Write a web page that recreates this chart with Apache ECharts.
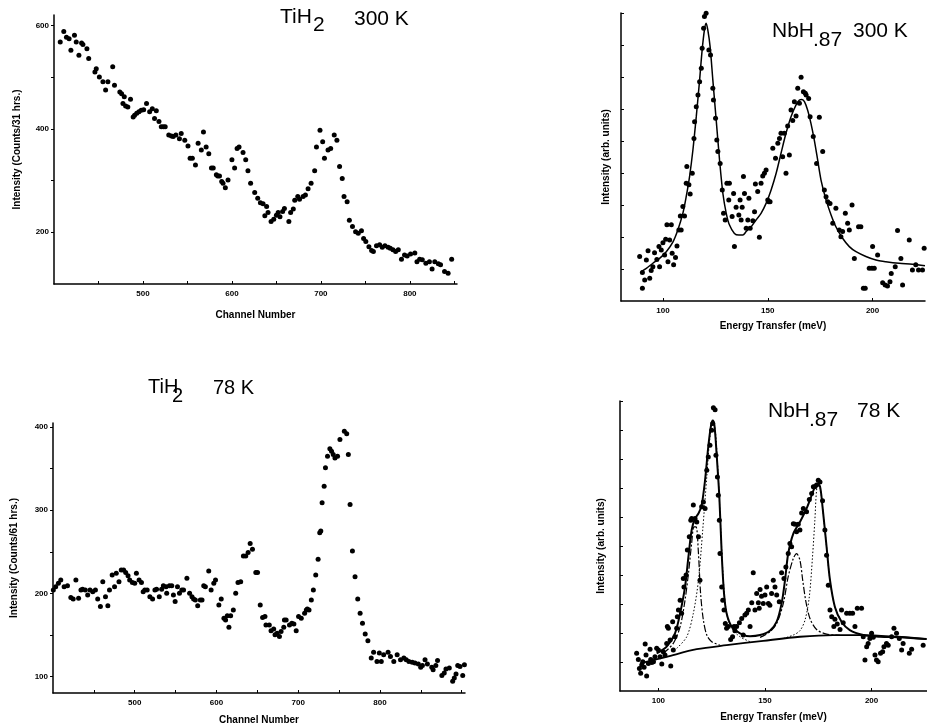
<!DOCTYPE html>
<html>
<head>
<meta charset="utf-8">
<title>TiH2 and NbH.87 spectra</title>
<script src="https://cdn.jsdelivr.net/npm/echarts@6/dist/echarts.min.js"></script>
<style>
  html, body { margin: 0; padding: 0; background: #fff; }
  #chart { width: 927px; height: 728px; }
</style>
</head>
<body>
<div id="chart"></div>
<script>
// TiH2 300 K : [channel, counts]
const tih300 = [[407,568],[411,588],[414,577],[417,574],[419,552],[423,581],[425,568],[428,542],[431,566],[432.5,563],[437,555],[439,536],[446,510],[447.5,516],[451,500],[455,491],[458,475],[460.6,491],[466,520],[468,484],[474,471],[476,468],[477.5,449],[479,462],[480.5,444],[483,442],[486,457],[489,423],[490.6,426],[493,430],[495.5,433],[498,436],[500.8,437],[504,449],[507.5,433],[510.5,439],[513,420],[515,435],[518,414],[520.6,404],[523,404],[525,404],[529,388],[532,386],[534,385],[537,388],[541,381],[543,391],[547,378],[550.6,367],[553,343],[555.5,343],[559,330],[562,372],[565.6,359],[568,394],[571,365],[574,352],[577,324],[579,324],[582.5,311],[584,309],[586,309],[588.5,298],[590,295],[592.6,286],[595.6,301],[600,340],[603,324],[605.8,362],[608,365],[612.5,354],[615.5,340],[618,319],[621,295],[625.6,277],[629,266],[632,257],[635,255],[637,232],[639,250],[640.6,238],[644,221],[647,225],[650,233],[652,238],[654,230],[657,240],[659,246],[664,221],[666,238],[669,245],[670.6,262],[674,269],[676,264],[680,269],[682.6,272],[685.6,284],[689,295],[693,319],[695,365],[699,397],[702,375],[704,343],[708,359],[711,362],[715,388],[718,378],[721,327],[724,304],[726,269],[729.5,259],[732,223],[735.5,211],[739,201],[742,198],[745.6,203],[748,188],[750.5,182],[754,172],[757,165],[759,163],[762.5,174],[766,176],[769,171],[772,174],[775.6,171],[778,169],[781,166],[784,163],[787,166],[790.6,148],[794,156],[797,154],[800.8,158],[805.6,160],[808,143],[811,148],[814,147],[818,140],[822,143],[825,129],[828,143],[832,139],[834.5,137],[839,124],[843,121],[847,148]];

// TiH2 78 K : [channel, counts]
const tih78 = [[400.4,204],[403.3,208],[406.6,212],[409.5,216],[413.6,208],[417.7,209],[421.8,195],[424.7,193],[428,216],[431.3,194],[434.2,204],[436.2,205],[439.5,204],[442.4,198],[445.3,204],[448.6,202],[451.9,204],[454.7,193],[458,184],[460.9,214],[464.2,196],[467.1,185],[469.1,204],[472.4,222],[475.3,208],[477.4,224],[480.7,214],[483.5,228],[486.4,228],[488.9,225],[491.8,221],[493.8,216],[497.1,213],[500,212],[502,224],[505.3,216],[508.2,213],[510.3,202],[512.3,204],[515.2,204],[518.5,196],[521.8,193],[524.7,204],[526.7,205],[530,196],[532.9,205],[535,209],[538.3,208],[539.1,200],[542.4,209],[545.3,209],[547.3,198],[549.4,190],[552.3,208],[554.7,200],[557.6,204],[559.7,204],[563.8,218],[567.1,200],[570,196],[572,193],[574.1,192],[577,185],[580.2,192],[582.3,192],[584.4,209],[586.4,208],[590.5,227],[593.4,204],[596.7,212],[598.8,216],[602.9,186],[605.8,193],[609.1,170],[611.1,168],[613.2,173],[615.2,159],[617.3,173],[620.6,180],[623.5,200],[626.3,213],[629.6,214],[632.9,245],[635.8,245],[638.7,249],[641.2,260],[644,253],[648.1,225],[650.2,225],[653.5,186],[656.4,171],[659.3,172],[660.5,162],[664.6,162],[666.7,155],[670,157],[671.6,150],[674.1,152],[677,148],[679,154],[682.3,159],[683.1,168],[685.2,168],[689.3,162],[692.2,164],[694.7,163],[697.5,155],[700.4,172],[703.7,170],[707.8,176],[709.9,180],[711.1,181],[713.2,180],[716,192],[718.5,204],[721.4,222],[724.3,241],[726.3,273],[727.6,275],[729.2,309],[731.7,329],[733.3,351],[735.8,365],[738.7,374],[740.7,371],[742.8,367],[744.9,363],[748.1,365],[751,385],[753.1,416],[756.4,395],[759.3,392],[761.3,367],[763.4,307],[766.3,251],[769.5,220],[772.8,193],[775.7,176],[778.6,164],[781.9,151],[785.2,143],[789.3,122],[792.2,129],[796.3,118],[799.2,128],[801.6,118],[804.5,126],[809.9,129],[812.8,124],[816.9,118],[821,126],[825.1,120],[829.2,122],[832.1,120],[835.4,118],[839.5,117],[842.8,116],[846.9,115],[849.8,111],[851.9,113],[855.1,120],[858,115],[863.4,111],[865,108],[868.3,113],[870.4,119],[875.7,101],[878.6,104],[880.7,109],[884.8,110],[888.9,94],[890.9,98],[893,103],[895.1,113],[897.9,112],[901.2,101],[903.3,114]];

// NbH.87 300 K : [meV, arb. units]
const nbh300 = [[88.9,1.39],[90.2,0.89],[90.2,0.40],[91.3,0.66],[92.1,1.28],[92.9,1.57],[93.7,0.71],[94.4,0.95],[95.2,1.07],[96.0,1.51],[97.1,1.30],[98.1,1.70],[98.4,1.07],[99.2,1.59],[100,1.82],[100.8,1.44],[101.3,1.93],[101.9,2.38],[102.4,1.23],[103.2,1.91],[104.0,2.38],[104.4,1.49],[105.1,1.13],[106.0,1.36],[106.7,1.72],[107.6,2.22],[108.3,2.66],[108.7,2.22],[109.5,2.95],[110.3,2.66],[111.1,3.68],[111.4,4.20],[112.4,3.63],[113.0,3.34],[114.0,3.99],[114.8,5.08],[115.1,5.60],[115.9,6.07],[116.7,6.44],[117.5,6.85],[118.3,7.27],[118.7,7.90],[119.4,8.52],[119.8,8.89],[120.6,8.99],[121.9,7.84],[122.7,7.69],[123.8,6.65],[124.1,6.28],[125.1,5.71],[125.7,5.03],[126.2,4.67],[127.3,4.30],[128.3,3.47],[128.9,2.74],[129.7,2.53],[130.5,3.68],[131.4,3.16],[131.7,3.68],[133.0,2.64],[133.7,3.36],[134.1,1.70],[134.9,2.93],[136.2,2.69],[136.8,3.16],[137.3,2.53],[137.8,2.93],[138.4,3.89],[138.9,3.36],[139.7,2.27],[140.5,2.53],[141.0,3.21],[141.6,2.27],[142.9,2.51],[143.7,2.79],[144.1,3.66],[145.2,3.42],[146.0,1.99],[146.8,3.68],[147.6,3.91],[148.4,3.99],[149.2,4.09],[150.0,3.16],[150.5,3.10],[151.1,3.10],[152.4,4.77],[153.7,4.46],[154.8,4.93],[155.6,5.08],[156.3,5.24],[157.1,4.51],[157.9,5.24],[158.7,3.99],[159.5,5.47],[160.3,4.56],[161.1,5.97],[161.9,5.64],[162.7,6.23],[163.5,5.78],[164.3,6.65],[165.1,6.18],[165.9,6.99],[167.0,6.54],[167.9,6.49],[168.3,6.44],[169.5,6.33],[170.2,5.76],[171.7,5.14],[173.3,4.30],[174.6,5.74],[176.2,4.67],[177.0,3.47],[177.8,3.26],[178.6,3.10],[179.7,3.05],[181.0,2.43],[182.5,2.90],[184.1,2.22],[184.9,2.01],[185.7,2.17],[187.0,2.74],[188.1,2.43],[188.9,2.22],[190.2,3.00],[191.3,1.33],[193.3,2.32],[194.4,2.32],[195.6,0.40],[196.5,0.40],[198.4,1.02],[199.7,1.02],[200.0,1.70],[200.8,1.02],[202.4,1.44],[204.8,0.57],[206.0,0.50],[207.1,0.47],[208.3,0.60],[208.9,0.86],[210.8,1.07],[211.9,2.20],[213.5,1.33],[214.3,0.50],[217.5,1.91],[219.0,0.97],[220.6,1.13],[221.9,0.97],[223.8,0.97],[224.6,1.65]];
const nbh300Fit = [[89.7,0.92],[92.1,1.02],[95.2,1.18],[98.4,1.33],[101.6,1.54],[104.8,1.85],[107.1,2.22],[109.5,2.74],[111.1,3.26],[112.7,3.89],[114.3,4.72],[115.9,5.76],[117.5,6.91],[118.7,7.84],[119.8,8.47],[120.6,8.68],[121.4,8.47],[122.5,7.95],[123.8,6.91],[125.4,5.66],[127.0,4.41],[128.6,3.36],[130.2,2.74],[131.7,2.38],[134.1,2.11],[136.2,2.06],[138.1,2.06],[139.7,2.17],[142.1,2.32],[144.4,2.53],[146.8,2.74],[149.2,3.05],[151.6,3.47],[154.0,3.99],[156.3,4.61],[158.7,5.24],[161.1,5.76],[163.5,6.13],[165.1,6.28],[166.3,6.30],[167.5,6.23],[169.0,5.97],[170.6,5.55],[172.2,5.03],[173.8,4.41],[175.4,3.78],[177.8,3.16],[180.2,2.69],[182.5,2.32],[185.7,1.96],[188.9,1.70],[192.1,1.54],[196.8,1.39],[201.6,1.28],[206.3,1.23],[212.7,1.18],[219.0,1.15],[225.0,1.10]];

// NbH.87 78 K : [meV, arb. units]
const nbh78 = [[89.8,1.30],[90.6,1.09],[91.1,0.78],[91.7,0.61],[92.2,0.90],[92.7,1.01],[93.3,0.82],[93.8,1.62],[94.2,1.24],[94.5,0.52],[95.3,0.95],[96.1,1.44],[96.4,1.09],[96.9,0.98],[97.7,1.01],[98.4,1.18],[99.2,1.47],[100,1.41],[100.8,1.18],[101.6,0.93],[102.3,1.35],[103.1,1.24],[103.9,1.64],[104.2,2.22],[104.7,2.16],[105.5,1.76],[105.8,0.86],[106.7,2.39],[107.0,1.41],[107.8,1.87],[108.6,2.16],[108.9,2.56],[109.4,2.79],[110.2,3.13],[110.9,2.68],[111.7,3.88],[112.0,3.59],[113.0,4.00],[113.6,4.86],[114.5,5.32],[115.2,5.89],[115.6,5.95],[116.4,6.41],[117.2,5.95],[118.0,5.83],[118.8,5.32],[119.5,3.82],[120.3,6.35],[121.1,6.52],[121.9,6.29],[122.7,7.61],[123.4,8.07],[124.2,8.47],[125.0,8.99],[125.5,9.22],[125.8,9.77],[126.6,9.70],[127.0,8.13],[127.7,7.38],[128.1,6.75],[128.6,5.89],[128.9,4.74],[129.7,3.59],[130.2,3.13],[130.8,2.79],[131.4,2.33],[132.0,2.16],[132.8,2.22],[133.9,1.78],[134.8,1.87],[135.5,2.22],[135.9,2.08],[136.7,2.22],[138.0,2.35],[139.1,2.50],[139.8,1.93],[140.6,2.62],[141.4,2.68],[142.2,2.79],[143.0,2.22],[143.8,3.04],[144.5,4.08],[145.3,2.79],[146.1,3.36],[146.9,3.04],[147.3,2.85],[147.7,3.50],[148.4,3.27],[149.2,3.02],[150.0,3.31],[150.8,3.59],[151.6,3.02],[152.3,2.96],[153.1,3.36],[153.9,3.82],[154.7,3.59],[155.5,3.31],[156.7,3.08],[157.8,4.08],[158.9,3.88],[159.8,4.28],[160.9,4.74],[161.7,5.09],[162.5,4.97],[163.3,5.77],[164.1,5.75],[164.8,5.49],[165.6,5.75],[166.4,5.55],[167.2,6.14],[168.0,6.29],[169.5,6.18],[170.8,6.60],[171.9,6.81],[172.7,7.04],[173.4,7.04],[174.2,7.10],[175.0,7.27],[175.8,7.21],[177.0,6.56],[178.1,5.55],[178.9,4.68],[179.7,3.65],[180.5,2.79],[181.3,2.56],[182.3,2.22],[182.8,2.47],[183.9,2.31],[185.2,2.12],[185.9,2.79],[186.7,2.35],[188.3,2.68],[189.8,2.68],[191.1,2.68],[192.2,2.22],[193.3,2.85],[195.3,2.85],[196.1,1.87],[196.9,1.07],[197.7,1.53],[198.4,1.64],[199.2,1.81],[200.0,1.99],[200.8,1.85],[201.6,1.24],[202.3,1.07],[203.1,1.01],[204.2,1.30],[205.2,1.35],[205.8,1.53],[207.0,1.64],[207.8,1.58],[209.4,1.87],[210.5,2.16],[211.7,1.99],[213.0,1.81],[214.1,1.41],[214.8,1.64],[217.7,1.30],[218.8,1.44],[224.2,1.58]];
const nbh78Fit = [[99.2,1.30],[103.9,1.53],[107.8,1.99],[110.2,2.68],[112.5,3.59],[114.1,4.63],[115.6,5.55],[117.2,5.95],[118.8,6.12],[120.3,6.41],[121.9,7.27],[123.4,8.42],[124.7,9.16],[125.5,9.33],[126.3,9.16],[127.3,8.19],[128.6,6.69],[129.7,4.74],[130.8,3.36],[132.0,2.68],[134.4,2.22],[138.3,1.99],[143.0,1.89],[147.7,1.93],[152.3,2.08],[155.5,2.39],[157.8,3.02],[159.4,3.82],[160.9,4.74],[163.3,5.43],[166.4,5.83],[169.5,6.29],[171.9,6.75],[173.4,7.04],[174.5,7.15],[175.8,7.06],[177.0,6.35],[178.9,4.97],[180.5,3.82],[182.8,2.90],[185.9,2.39],[189.8,2.10],[196.1,1.93],[203.9,1.87],[213.3,1.85],[225.8,1.79]];
const nbh78Base = [[91.4,0.95],[103.9,1.18],[118.0,1.44],[132.0,1.58],[149.2,1.73],[166.4,1.87],[182.0,1.93],[196.1,1.93],[211.7,1.87],[225.8,1.79]];
const nbh78PeakA = [[102.3,1.30],[107.0,1.64],[110.2,2.22],[112.5,3.13],[114.1,4.05],[115.6,5.09],[116.7,5.66],[117.7,5.66],[118.8,4.74],[119.8,3.36],[121.1,2.45],[122.7,1.93],[125.0,1.70],[128.9,1.58]];
const nbh78PeakB = [[108.6,1.47],[113.3,1.87],[116.4,2.68],[118.8,3.82],[120.8,5.55],[122.7,7.38],[124.2,8.76],[125.5,9.28],[126.7,8.99],[128.0,7.50],[129.2,5.66],[130.5,3.82],[132.0,2.68],[134.4,2.16],[138.3,1.87],[143.0,1.70]];
const nbh78PeakC = [[147.7,1.85],[152.3,2.04],[155.5,2.33],[158.6,3.02],[160.9,3.94],[163.3,4.57],[164.8,4.74],[166.4,4.51],[167.7,3.82],[169.2,3.08],[171.1,2.50],[174.2,2.12],[178.9,1.96],[185.2,1.92]];
const nbh78PeakD = [[158.6,1.81],[163.3,1.93],[166.4,2.08],[168.8,2.45],[170.8,3.25],[172.3,4.63],[173.4,5.89],[174.2,6.92],[175.0,7.13],[176.1,6.92],[177.3,6.12],[178.9,4.97],[180.5,3.82],[182.8,2.90],[185.9,2.39]];

// tick positions and labels
const chTicks = [450, 500, 550, 600, 650, 700, 750, 800, 850];
const chTicks78 = [450, 500, 550, 600, 650, 700, 750, 800, 850, 900];
const chLabels = [500, 600, 700, 800];
const cnt300Ticks = [200, 300, 400, 500, 600];
const cnt300Labels = [200, 400, 600];
const cnt78Ticks = [100, 150, 200, 250, 300, 350, 400];
const cnt78Labels = [100, 200, 300, 400];
const meVLabels = [100, 150, 200];
const arb300Ticks = [1, 2, 3, 4, 5, 6, 7, 8, 9];
const arb78Ticks = [1, 2, 3, 4, 5, 6, 7, 8, 9, 10];

const chart = echarts.init(document.getElementById('chart'));
const ink = '#000';
const tickFont = { fontFamily: 'Liberation Sans', fontSize: 8, fontWeight: 'bold', color: ink };
const nameFont = { fontFamily: 'Liberation Sans', fontSize: 10, fontWeight: 'bold', color: ink };

function xAxis(gi, min, max, ticks, labels, name, gap) {
  return {
    type: 'value', gridIndex: gi, min: min, max: max, name: name,
    nameLocation: 'middle', nameGap: gap, nameTextStyle: nameFont,
    axisLine: { show: true, lineStyle: { color: ink, width: 1.5 } },
    axisTick: { show: true, inside: true, length: 3, customValues: ticks, lineStyle: { color: ink } },
    axisLabel: Object.assign({ customValues: labels, margin: 6 }, tickFont),
    splitLine: { show: false }
  };
}
function yAxis(gi, min, max, ticks, labels, name, gap, inside) {
  return {
    type: 'value', gridIndex: gi, min: min, max: max, name: name,
    nameLocation: 'middle', nameGap: gap, nameRotate: 90, nameTextStyle: nameFont,
    axisLine: { show: true, lineStyle: { color: ink, width: 1.5 } },
    axisTick: { show: true, inside: inside, length: 3, customValues: ticks, lineStyle: { color: ink } },
    axisLabel: Object.assign({ show: labels.length > 0, customValues: labels, margin: 5 }, tickFont),
    splitLine: { show: false }
  };
}
function dots(gi, data) {
  return { type: 'scatter', xAxisIndex: gi, yAxisIndex: gi, data: data, symbolSize: 5,
    itemStyle: { color: ink, opacity: 1 }, silent: true };
}
function curve(gi, data, width, dash) {
  return { type: 'line', xAxisIndex: gi, yAxisIndex: gi, data: data, showSymbol: false,
    smooth: 0.3, silent: true, lineStyle: { color: ink, width: width, type: dash || 'solid' } };
}
function label(text, left, top, size) {
  return { type: 'text', left: left, top: top,
    style: { text: text, fontFamily: 'Liberation Sans', fontSize: size, fill: '#000' } };
}

chart.setOption({
  animation: false,
  backgroundColor: '#fff',
  grid: [
    { left: 54, top: 15, width: 403, height: 269 },
    { left: 621, top: 13, width: 304, height: 288 },
    { left: 53, top: 423, width: 412, height: 270 },
    { left: 620, top: 401, width: 307, height: 290 }
  ],
  xAxis: [
    xAxis(0, 400, 853, chTicks, chLabels, 'Channel Number', 26),
    xAxis(1, 80, 225, meVLabels, meVLabels, 'Energy Transfer (meV)', 20),
    xAxis(2, 400, 904, chTicks78, chLabels, 'Channel Number', 22),
    xAxis(3, 82, 226, meVLabels, meVLabels, 'Energy Transfer (meV)', 21)
  ],
  yAxis: [
    yAxis(0, 100, 620, cnt300Ticks, cnt300Labels, 'Intensity (Counts/31 hrs.)', 32, false),
    yAxis(1, 0, 9, arb300Ticks, [], 'Intensity (arb. units)', 10, true),
    yAxis(2, 80, 405, cnt78Ticks, cnt78Labels, 'Intensity (Counts/61 hrs.)', 34, false),
    yAxis(3, 0, 10, arb78Ticks, [], 'Intensity (arb. units)', 14, true)
  ],
  series: [
    dots(0, tih300),
    dots(1, nbh300),
    curve(1, nbh300Fit, 1.5),
    dots(2, tih78),
    dots(3, nbh78),
    curve(3, nbh78Base, 1.8),
    curve(3, nbh78PeakA, 1.2, [7, 2, 2, 2]),
    curve(3, nbh78PeakB, 1, [1.5, 2]),
    curve(3, nbh78PeakC, 1.2, [7, 2, 2, 2]),
    curve(3, nbh78PeakD, 1, [1.5, 2]),
    curve(3, nbh78Fit, 2)
  ],
  graphic: [
    label('TiH', 280, 7, 21), label('2', 313, 15, 21), label('300 K', 354, 9, 21),
    label('NbH', 772, 21, 21), label('.87', 813, 30, 21), label('300 K', 853, 21, 21),
    label('TiH', 148, 377, 20), label('2', 172, 386, 20), label('78 K', 213, 378, 20),
    label('NbH', 768, 401, 21), label('.87', 809, 410, 21), label('78 K', 857, 401, 21)
  ]
});
</script>
</body>
</html>
